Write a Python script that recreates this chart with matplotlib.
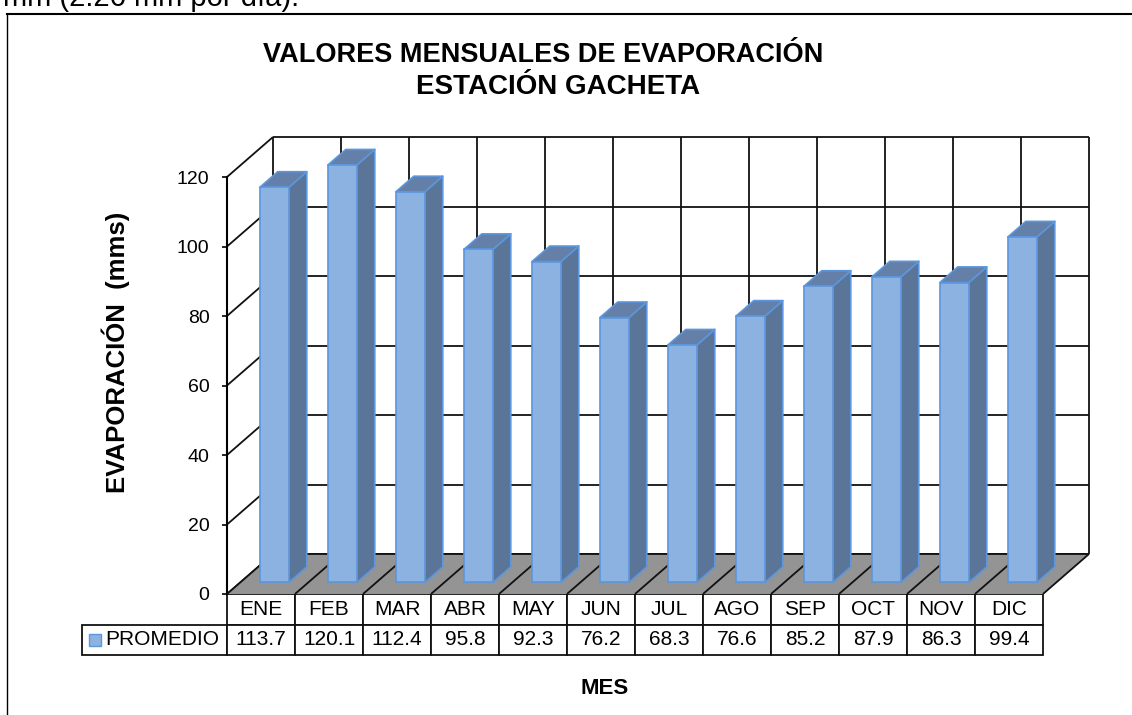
import matplotlib
matplotlib.use("Agg")
import matplotlib.pyplot as plt
from matplotlib.lines import Line2D
from matplotlib.patches import Polygon, Rectangle

plt.rcParams['font.family'] = ['Liberation Sans', 'DejaVu Sans']

meses = ["ENE", "FEB", "MAR", "ABR", "MAY", "JUN", "JUL", "AGO", "SEP", "OCT", "NOV", "DIC"]
promedio = [113.7, 120.1, 112.4, 95.8, 92.3, 76.2, 68.3, 76.6, 85.2, 87.9, 86.3, 99.4]
yticks = [0, 20, 40, 60, 80, 100, 120]

W, H = 1132, 715
x0, x1 = 227, 1043  # front plane in pixels
y0, y1 = 594, 177

# oblique depth, in data units per full floor depth
depth_x = 46 / 68
depth_y = 40 / (417 / 120)

front_col = "#8BB2E1"
side_col = "#5A7597"
top_col = "#6580A8"
edge_col = "#5B96DE"
floor_col = "#949494"


def proj(x, v, d):
    return (x + d * depth_x, v + d * depth_y)


fig = plt.figure(figsize=(W / 100, H / 100), dpi=100)
ax = fig.add_axes([x0 / W, 1 - y0 / H, (x1 - x0) / W, (y0 - y1) / H])
ax.set_xlim(0, len(meses))
ax.set_ylim(0, 120)
ax.patch.set_visible(False)
for s in ["top", "right", "bottom"]:
    ax.spines[s].set_visible(False)
ax.spines["left"].set_linewidth(1.5)
ax.set_xticks([])
ax.set_yticks(yticks)
ax.tick_params(axis="y", length=3.6, width=1.2, pad=9, labelsize=14)

n = len(meses)
line_kw = dict(color="#111111", lw=1.3, clip_on=False, solid_capstyle="butt")

# back wall and side wall grid
for v in yticks:
    a, b = proj(0, v, 1), proj(n, v, 1)
    ax.plot([a[0], b[0]], [a[1], b[1]], zorder=1, **line_kw)
    c = proj(0, v, 0)
    ax.plot([c[0], a[0]], [c[1], a[1]], zorder=1, **line_kw)
for i in range(n + 1):
    a, b = proj(i, 0, 1), proj(i, 120, 1)
    ax.plot([a[0], b[0]], [a[1], b[1]], zorder=1, **line_kw)

# floor
floor = [proj(0, 0, 0), proj(n, 0, 0), proj(n, 0, 1), proj(0, 0, 1)]
ax.add_patch(Polygon(floor, closed=True, fc=floor_col, ec="none", clip_on=False, zorder=2))
for i in range(n + 1):
    a, b = proj(i, 0, 0), proj(i, 0, 1)
    ax.plot([a[0], b[0]], [a[1], b[1]], zorder=3, **line_kw)
ax.plot([proj(0, 0, 1)[0], proj(n, 0, 1)[0]], [proj(0, 0, 1)[1]] * 2, zorder=3, **line_kw)

# bars
bar_w = 29 / 68
d_a, d_b = 0.29, 0.68
for i, v in enumerate(promedio):
    l = i + 0.5 - bar_w / 2
    r = i + 0.5 + bar_w / 2
    z = 4 + i
    kw = dict(closed=True, ec=edge_col, lw=1.2, clip_on=False, zorder=z, joinstyle="round")
    ax.add_patch(Polygon([proj(r, 0, d_a), proj(r, 0, d_b), proj(r, v, d_b), proj(r, v, d_a)], fc=side_col, **kw))
    ax.add_patch(Polygon([proj(l, v, d_a), proj(r, v, d_a), proj(r, v, d_b), proj(l, v, d_b)], fc=top_col, **kw))
    ax.add_patch(Polygon([proj(l, 0, d_a), proj(r, 0, d_a), proj(r, v, d_a), proj(l, v, d_a)], fc=front_col, **kw))

# data table below the axes
tab_left, tab_h = 82, 61
cells = [[""] + meses, ["PROMEDIO"] + [f"{v:.1f}" for v in promedio]]
widths = [(x0 - tab_left) / (x1 - tab_left)] + [68 / (x1 - tab_left)] * n
tbl = ax.table(cellText=cells, colWidths=widths, cellLoc="center",
               bbox=[(tab_left - x0) / (x1 - x0), -tab_h / (y0 - y1), (x1 - tab_left) / (x1 - x0), tab_h / (y0 - y1)])
tbl.auto_set_font_size(False)
for (r, c), cell in tbl.get_celld().items():
    cell.set_fontsize(15)
    cell.set_linewidth(1.3)
    cell.set_edgecolor("#111111")
    cell.set_facecolor("white")
    cell.set_zorder(3)
corner = tbl[(0, 0)]
corner.visible_edges = ""
corner.set_facecolor("none")
label_cell = tbl[(1, 0)]
label_cell.get_text().set_ha("left")
label_cell.PAD = 23 / 145
fig.add_artist(Rectangle((89 / W, 1 - 646 / H), 12 / W, 12 / H, transform=fig.transFigure,
                         fc=front_col, ec=edge_col, lw=1, zorder=10))

# titles
fig.text(543 / W, 1 - 62 / H, "VALORES MENSUALES DE EVAPORACIÓN", ha="center", va="baseline",
         fontsize=19.5, fontweight="bold")
fig.text(558 / W, 1 - 94 / H, "ESTACIÓN GACHETA", ha="center", va="baseline",
         fontsize=20, fontweight="bold")
fig.text(116 / W, 1 - 352 / H, "EVAPORACIÓN  (mms)", rotation=90, ha="center", va="center",
         fontsize=18.5, fontweight="bold")
fig.text(605 / W, 1 - 688 / H, "MES", ha="center", va="center", fontsize=16, fontweight="bold")

# frame of the pasted picture and the clipped sentence above it
fig.add_artist(Line2D([7 / W, 1], [1 - 14 / H, 1 - 14 / H], color="black", lw=1.5))
fig.add_artist(Line2D([7 / W, 7 / W], [1 - 14 / H, 0], color="black", lw=1.0))
fig.text(3 / W, 1 - 6 / H, "mm (2.26 mm por día).", ha="left", va="baseline", fontsize=21)

fig.savefig("out.png", dpi=100)
